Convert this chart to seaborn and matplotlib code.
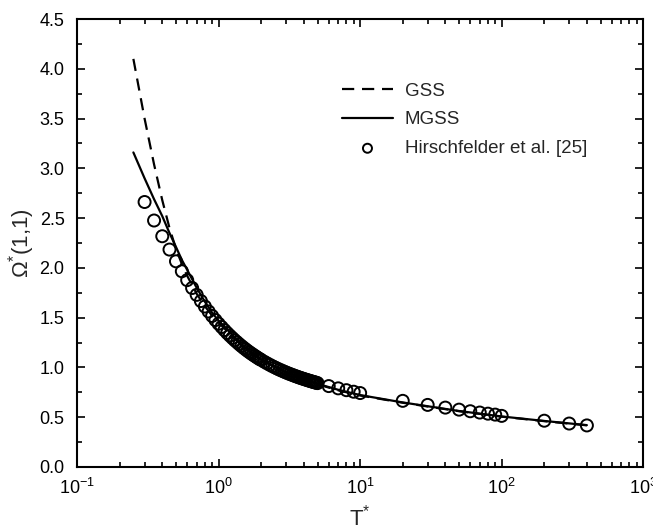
import matplotlib
matplotlib.use("Agg")
import matplotlib.pyplot as plt
import seaborn as sns
from matplotlib.ticker import MultipleLocator, LogLocator, NullFormatter, FormatStrFormatter

# Hirschfelder et al. [25] collision integral table
hcb_t = [0.30, 0.35, 0.40, 0.45, 0.50, 0.55, 0.60, 0.65, 0.70, 0.75, 0.80, 0.85,
         0.90, 0.95, 1.00, 1.05, 1.10, 1.15, 1.20, 1.25, 1.30, 1.35, 1.40, 1.45,
         1.50, 1.55, 1.60, 1.65, 1.70, 1.75, 1.80, 1.85, 1.90, 1.95, 2.00, 2.1,
         2.2, 2.3, 2.4, 2.5, 2.6, 2.7, 2.8, 2.9, 3.0, 3.1, 3.2, 3.3, 3.4, 3.5,
         3.6, 3.7, 3.8, 3.9, 4.0, 4.1, 4.2, 4.3, 4.4, 4.5, 4.6, 4.7, 4.8, 4.9,
         5.0, 6, 7, 8, 9, 10, 20, 30, 40, 50, 60, 70, 80, 90, 100, 200, 300, 400]
hcb_omega = [2.662, 2.476, 2.318, 2.184, 2.066, 1.966, 1.877, 1.798, 1.729, 1.667,
             1.612, 1.562, 1.517, 1.476, 1.439, 1.406, 1.375, 1.346, 1.320, 1.296,
             1.273, 1.253, 1.233, 1.215, 1.198, 1.182, 1.167, 1.153, 1.140, 1.128,
             1.116, 1.105, 1.094, 1.084, 1.075, 1.057, 1.041, 1.026, 1.012, 0.9996,
             0.9878, 0.9770, 0.9672, 0.9576, 0.9490, 0.9406, 0.9328, 0.9256, 0.9186,
             0.9120, 0.9058, 0.8998, 0.8942, 0.8888, 0.8836, 0.8788, 0.8740, 0.8694,
             0.8652, 0.8610, 0.8568, 0.8530, 0.8492, 0.8456, 0.8422, 0.8124, 0.7896,
             0.7712, 0.7556, 0.7424, 0.6640, 0.6232, 0.5960, 0.5756, 0.5596, 0.5464,
             0.5352, 0.5256, 0.5130, 0.4644, 0.4360, 0.4170]

# GSS model (dashed)
gss_t = [0.25, 0.30, 0.35, 0.40, 0.45, 0.50, 0.55, 0.60, 0.70, 0.80, 0.90, 1.0,
         1.5, 2.0, 3.0, 5.0, 7.0, 10, 20, 50, 100, 200, 400]
gss_omega = [4.10, 3.50, 3.04, 2.68, 2.40, 2.19, 2.04, 1.92, 1.74, 1.615, 1.52, 1.45,
             1.20, 1.075, 0.945, 0.830, 0.770, 0.718, 0.645, 0.560, 0.505, 0.460, 0.418]

# MGSS model (solid)
mgss_t = [0.25, 0.30, 0.35, 0.40, 0.45, 0.50, 0.55, 0.60, 0.70, 0.80, 0.90, 1.0,
          1.5, 2.0, 3.0, 5.0, 7.0, 10, 20, 50, 100, 200, 400]
mgss_omega = [3.16, 2.90, 2.69, 2.52, 2.35, 2.21, 2.08, 1.98, 1.80, 1.66, 1.55, 1.47,
              1.21, 1.08, 0.950, 0.835, 0.775, 0.722, 0.648, 0.562, 0.507, 0.462, 0.420]

sns.set_style("ticks")
plt.rcParams["font.family"] = ["Liberation Sans", "DejaVu Sans"]
plt.rcParams["mathtext.fontset"] = "custom"
plt.rcParams["mathtext.rm"] = "Liberation Sans"
plt.rcParams["mathtext.it"] = "Liberation Sans:italic"

fig = plt.figure(figsize=(6.53, 5.30), dpi=100)
ax = fig.add_axes([0.118, 0.119, 0.867, 0.845])

sns.lineplot(x=gss_t, y=gss_omega, ax=ax, color="black", lw=1.6,
             linestyle=(0, (5.5, 3.5)), label="GSS")
sns.lineplot(x=mgss_t, y=mgss_omega, ax=ax, color="black", lw=1.6, label="MGSS")
sns.scatterplot(x=hcb_t, y=hcb_omega, ax=ax, marker="o", s=75,
                facecolor="none", edgecolor="black", linewidth=1.4,
                label="Hirschfelder et al. [25]")

ax.set_xscale("log")
ax.set_xlim(0.1, 1000)
ax.set_ylim(0, 4.5)
ax.yaxis.set_major_locator(MultipleLocator(0.5))
ax.yaxis.set_minor_locator(MultipleLocator(0.25))
ax.yaxis.set_major_formatter(FormatStrFormatter("%.1f"))
ax.xaxis.set_major_locator(LogLocator(base=10, numticks=10))
ax.xaxis.set_minor_locator(LogLocator(base=10, subs=range(2, 10), numticks=20))
ax.xaxis.set_minor_formatter(NullFormatter())

ax.tick_params(which="both", direction="in", top=True, right=True,
               width=1.2, colors="black", labelsize=13)
ax.tick_params(which="major", length=6)
ax.tick_params(which="minor", length=3.5)
ax.tick_params(axis="y", which="major", pad=9)
ax.tick_params(axis="x", which="major", pad=8)
for s in ax.spines.values():
    s.set_linewidth(1.5)
    s.set_color("black")

ax.set_xlabel("T$^{*}$", fontsize=16, labelpad=5)
ax.set_ylabel("Ω$^{*}$(1,1)", fontsize=16, labelpad=2)

ax.legend(loc="upper left", bbox_to_anchor=(0.455, 0.875), frameon=False,
          fontsize=13.5, handlelength=2.7, handletextpad=0.65, labelspacing=0.62,
          borderaxespad=0, markerscale=0.75)

fig.savefig("out.png", dpi=100)
